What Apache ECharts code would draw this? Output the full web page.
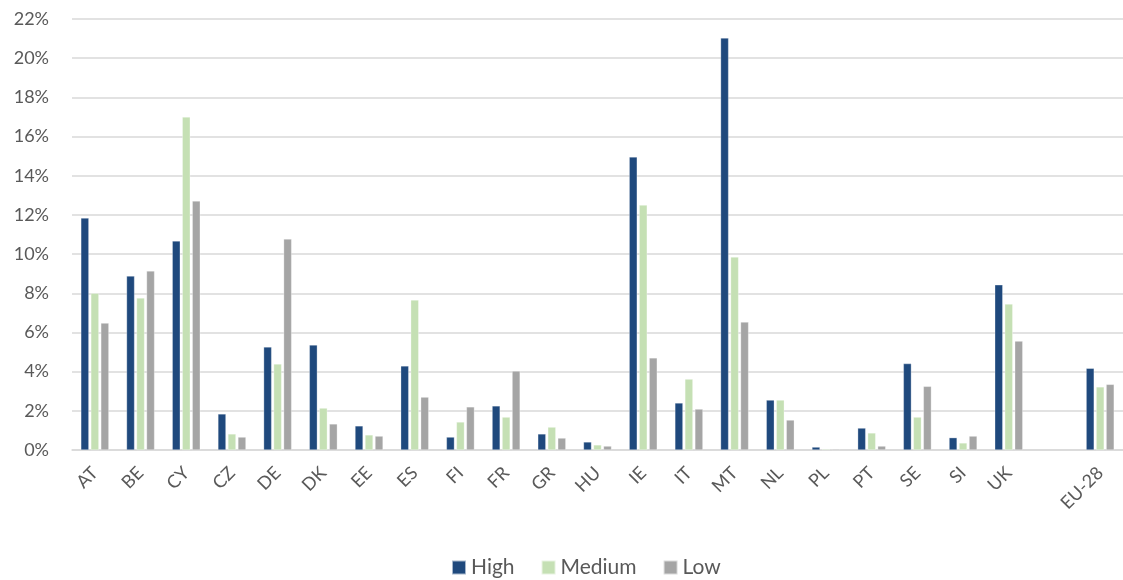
<!DOCTYPE html>
<html><head><meta charset="utf-8">
<script src="https://cdn.jsdelivr.net/npm/echarts@6/dist/echarts.min.js"></script>
<style>html,body{margin:0;padding:0;background:#fff}#c{width:1123px;height:580px}</style>
</head><body><div id="c"></div>
<script>
const categories = ['AT','BE','CY','CZ','DE','DK','EE','ES','FI','FR','GR','HU','IE','IT','MT','NL','PL','PT','SE','SI','UK','','EU-28'];
const high   = [11.84, 8.88, 10.67, 1.84, 5.26, 5.36, 1.23, 4.29, 0.66, 2.25, 0.82, 0.41, 14.96, 2.40, 21.03, 2.55, 0.15, 1.12, 4.41, 0.63, 8.43, null, 4.17];
const medium = [8.00, 7.76, 17.00, 0.82, 4.39, 2.14, 0.77, 7.66, 1.43, 1.68, 1.17, 0.26, 12.50, 3.62, 9.85, 2.55, 0.05, 0.87, 1.68, 0.36, 7.45, null, 3.22];
const low    = [6.48, 9.14, 12.71, 0.66, 10.77, 1.33, 0.71, 2.70, 2.20, 4.03, 0.61, 0.20, 4.70, 2.09, 6.53, 1.53, 0.05, 0.20, 3.25, 0.71, 5.56, null, 3.35];
const seriesNames = ['High','Medium','Low'];
const colors = ['#1F497D','#C5E0B4','#A5A5A5'];

const chart = echarts.init(document.getElementById('c'));
const font = 'Lato, "Liberation Sans", sans-serif';
const mk = (name, data, color) => ({
  name, type: 'bar', data, barWidth: 8, barGap: '25%',
  itemStyle: { color, borderColor: 'rgba(255,255,255,0.6)', borderWidth: 0.5 }
});
chart.setOption({
  animation: false,
  textStyle: { fontFamily: font },
  grid: { left: 72, top: 19, width: 1060, height: 431, containLabel: false },
  legend: {
    top: 552, left: 446, itemWidth: 14, itemHeight: 14, itemGap: 26,
    icon: 'rect',
    textStyle: { fontSize: 21, color: '#595959', fontFamily: font },
    data: seriesNames
  },
  xAxis: {
    type: 'category', data: categories,
    axisLine: { lineStyle: { color: '#D9D9D9', width: 1.5 } },
    axisTick: { show: false },
    axisLabel: { rotate: 45, fontSize: 18, color: '#595959', interval: 0, margin: 20, fontFamily: font }
  },
  yAxis: {
    type: 'value', min: 0, max: 22, interval: 2,
    axisLine: { show: false }, axisTick: { show: false },
    splitLine: { lineStyle: { color: '#D9D9D9', width: 1.5 } },
    axisLabel: { formatter: '{value}%', fontSize: 18, color: '#595959', margin: 23, fontFamily: font }
  },
  series: [mk(seriesNames[0], high, colors[0]), mk(seriesNames[1], medium, colors[1]), mk(seriesNames[2], low, colors[2])]
});
</script></body></html>
